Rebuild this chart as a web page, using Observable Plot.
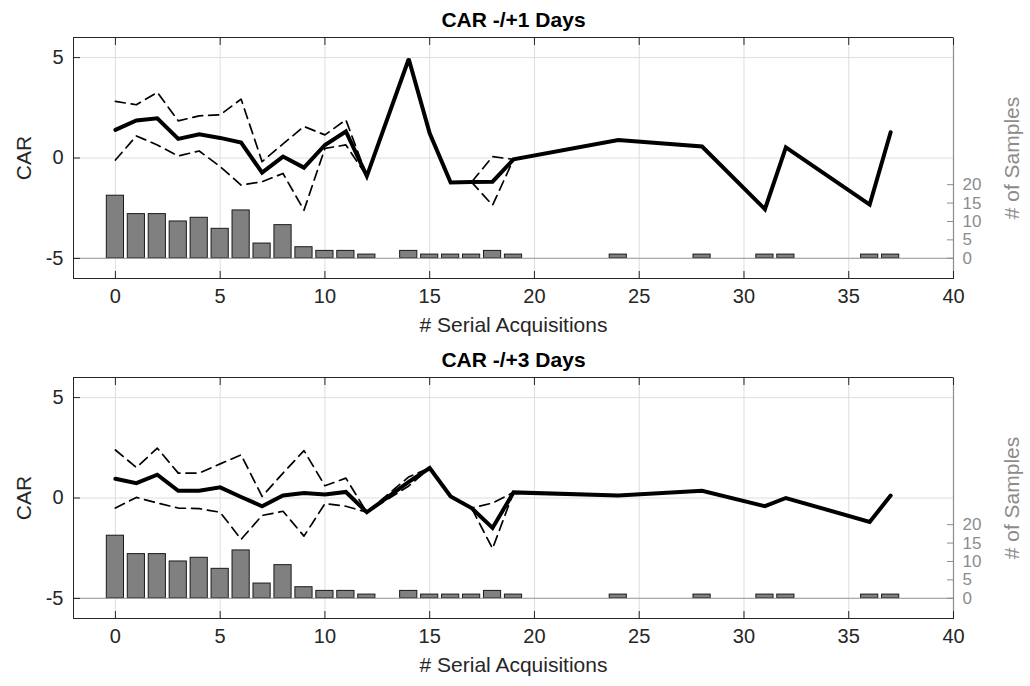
<!DOCTYPE html>
<html><head><meta charset="utf-8">
<script src="https://cdn.jsdelivr.net/npm/d3@7"></script>
<script src="https://cdn.jsdelivr.net/npm/@observablehq/plot@0.6"></script>
<style>
body{margin:0;background:#fff;}
#chart{width:1030px;height:686px;}
#chart svg{display:block;}
</style></head><body><div id="chart"></div>
<script>
// Number of serial acquisitions (x positions)
const xVals = [0,1,2,3,4,5,6,7,8,9,10,11,12,14,15,16,17,18,19,24,28,31,32,36,37];
// Number of samples (right axis bars)
const samples = [17,12,12,10,11,8,13,4,9,3,2,2,1,2,1,1,1,2,1,1,1,1,1,1,1];

// CAR -/+1 days
const car1Mean  = [1.4,1.87,1.98,0.95,1.18,1.0,0.77,-0.73,0.07,-0.48,0.65,1.32,-0.9,4.93,1.23,-1.22,-1.2,-1.18,-0.07,0.9,0.57,-2.55,0.53,-2.32,1.28];
const car1Upper = [2.82,2.65,3.27,1.85,2.1,2.15,2.93,-0.18,0.7,1.57,1.15,1.9,-0.9,4.93,1.23,-1.22,-1.2,0.07,-0.07,0.9,0.57,-2.55,0.53,-2.32,1.28];
const car1Lower = [-0.1,1.1,0.65,0.1,0.35,-0.43,-1.35,-1.18,-0.77,-2.6,0.48,0.65,-0.9,4.93,1.23,-1.22,-1.2,-2.35,-0.07,0.9,0.57,-2.55,0.53,-2.32,1.28];

// CAR -/+3 days
const car3Mean  = [0.96,0.74,1.16,0.36,0.36,0.53,0.05,-0.41,0.13,0.25,0.17,0.3,-0.71,0.8,1.49,0.08,-0.5,-1.49,0.28,0.12,0.36,-0.41,0.0,-1.19,0.12];
const car3Upper = [2.39,1.52,2.48,1.24,1.24,1.7,2.15,0.08,1.24,2.36,0.61,0.99,-0.71,1.05,1.49,0.08,-0.5,-0.25,0.28,0.12,0.36,-0.41,0.0,-1.19,0.12];
const car3Lower = [-0.5,0.03,-0.25,-0.5,-0.53,-0.71,-2.06,-0.87,-0.66,-1.9,-0.28,-0.41,-0.71,0.6,1.49,0.08,-0.5,-2.52,0.28,0.12,0.36,-0.41,0.0,-1.19,0.12];

const xDomain = [-2, 40];
const yDomain = [-6, 6];
const sampleDomain = [-5.5, 60];
const xTicks = [0,5,10,15,20,25,30,35,40];
const yTicks = [-5,0,5];
const sampleTicks = [0,5,10,15,20];
const titles = ["CAR -/+1 Days", "CAR -/+3 Days"];
const xLabel = "# Serial Acquisitions";
const yLabel = "CAR";
const rightLabel = "# of Samples";

const toCar = d3.scaleLinear().domain(sampleDomain).range(yDomain);
const FONT = "'Liberation Sans', Arial, Helvetica, sans-serif";
const GRAY = "#8c8c8c";

function panel(title, mean, upper, lower, height, marginBottom) {
  const rows = xVals.map((x, i) => ({x, n: samples[i], mean: mean[i], upper: upper[i], lower: lower[i]}));
  return Plot.plot({
    width: 1030, height,
    marginLeft: 73, marginRight: 77, marginTop: 37, marginBottom,
    style: {fontFamily: FONT, fontSize: "20px", color: "#262626", background: "white"},
    x: {domain: xDomain},
    y: {domain: yDomain},
    marks: [
      Plot.gridX(xTicks, {stroke: "#dedede", strokeOpacity: 1}),
      Plot.gridY(yTicks, {stroke: "#dedede", strokeOpacity: 1}),
      Plot.rectY(rows, {x1: d => d.x - 0.41, x2: d => d.x + 0.41, y1: toCar(0), y2: d => toCar(d.n),
        fill: "#808080", stroke: "#1a1a1a", strokeWidth: 1}),
      Plot.ruleY([toCar(0)], {stroke: "#9a9a9a", strokeWidth: 1.2}),
      Plot.line(rows, {x: "x", y: "upper", stroke: "#000", strokeWidth: 1.7, strokeDasharray: "10,6"}),
      Plot.line(rows, {x: "x", y: "lower", stroke: "#000", strokeWidth: 1.7, strokeDasharray: "10,6"}),
      Plot.line(rows, {x: "x", y: "mean", stroke: "#000", strokeWidth: 4, strokeLinejoin: "miter", strokeMiterlimit: 3}),
      Plot.frame({stroke: "#262626"}),
      Plot.ruleX([xDomain[1]], {stroke: GRAY, strokeWidth: 1.2}),
      Plot.axisX(xTicks, {anchor: "bottom", tickSize: -7, tickPadding: 17, label: null, tickFormat: d => String(d)}),
      Plot.axisX(xTicks, {anchor: "top", tickSize: -7, tickFormat: () => "", label: null}),
      Plot.axisY(yTicks, {anchor: "left", tickSize: -7, tickPadding: 17, label: null, tickFormat: d => String(d)}),
      Plot.axisY(sampleTicks.map(t => toCar(t)), {anchor: "right", tickSize: -7, tickPadding: 16, label: null,
        color: GRAY, fontSize: 17, tickFormat: d => String(Math.round(toCar.invert(d)))}),
      Plot.text([title], {text: d => d, frameAnchor: "top", dy: -17, lineAnchor: "middle", textAnchor: "middle", fontWeight: "bold", fontSize: 21, fill: "#000"}),
      Plot.text([xLabel], {text: d => d, frameAnchor: "bottom", dy: 47, lineAnchor: "middle", textAnchor: "middle", fontSize: 21, fill: "#262626"}),
      Plot.text([yLabel], {text: d => d, frameAnchor: "left", dx: -49, rotate: -90, lineAnchor: "middle", textAnchor: "middle", fontSize: 21, fill: "#262626"}),
      Plot.text([rightLabel], {text: d => d, frameAnchor: "right", dx: 59, rotate: -90, lineAnchor: "middle", textAnchor: "middle", fontSize: 21, fill: GRAY})
    ]
  });
}

const chart = document.getElementById("chart");
chart.appendChild(panel(titles[0], car1Mean, car1Upper, car1Lower, 340, 62));
chart.appendChild(panel(titles[1], car3Mean, car3Upper, car3Lower, 346, 68));
</script>
</body></html>
